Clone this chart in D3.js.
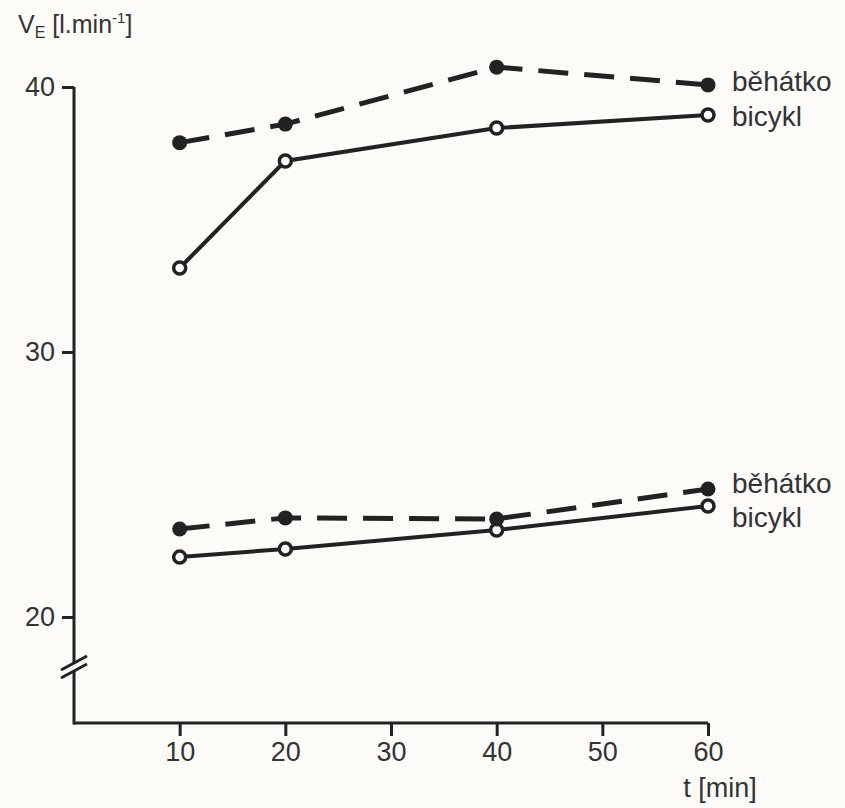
<!DOCTYPE html>
<html>
<head>
<meta charset="utf-8">
<script src="https://cdn.jsdelivr.net/npm/d3@7"></script>
<style>
  body { margin: 0; background: #fcfbf8; }
  svg text { font-family: "Liberation Sans", Arial, sans-serif; fill: #333; }
</style>
</head>
<body>
<script>
// time points (min)
var times = [10, 20, 40, 60];
// upper pair
var runHigh  = [37.9, 38.6, 40.75, 40.08];
var bikeHigh = [33.17, 37.21, 38.45, 38.94];
// lower pair
var runLow   = [23.32, 23.74, 23.7, 24.83];
var bikeLow  = [22.26, 22.57, 23.28, 24.19];

var xTicks = [10, 20, 30, 40, 50, 60];
var yTicks = [20, 30, 40];
var seriesNames = ['běhátko', 'bicykl'];

var width = 845, height = 808;
var ink = '#222';

var x = d3.scaleLinear().domain([0, 60]).range([74, 708]);
var y = d3.scaleLinear().domain([20, 40]).range([617, 87]);

var svg = d3.select('body').append('svg')
  .attr('width', width)
  .attr('height', height);

var axisY = y(16);

// x axis
var xAxis = d3.axisBottom(x).tickValues(xTicks).tickSize(13).tickPadding(6);
var gx = svg.append('g')
  .attr('transform', 'translate(0,' + axisY + ')')
  .call(xAxis);
gx.select('.domain').attr('d', 'M' + x(0) + ',0H' + x(60)).attr('stroke', ink).attr('stroke-width', 3);
gx.selectAll('.tick line').attr('stroke', ink).attr('stroke-width', 3);
gx.selectAll('.tick text').attr('font-size', 27).attr('fill', '#333').attr('font-family', '"Liberation Sans", Arial, sans-serif');

// y axis
var yAxis = d3.axisLeft(y).tickValues(yTicks).tickSize(12).tickPadding(7);
var gy = svg.append('g')
  .attr('transform', 'translate(' + x(0) + ',0)')
  .call(yAxis);
gy.select('.domain').attr('d', 'M0,' + y(40) + 'V' + (axisY + 1.5)).attr('stroke', ink).attr('stroke-width', 3);
gy.selectAll('.tick line').attr('stroke', ink).attr('stroke-width', 3);
gy.selectAll('.tick text').attr('font-size', 27).attr('fill', '#333').attr('font-family', '"Liberation Sans", Arial, sans-serif');

// axis break
var by = y(18);
svg.append('rect')
  .attr('x', x(0) - 3).attr('y', by - 6)
  .attr('width', 6).attr('height', 7)
  .attr('fill', '#fcfbf8');
[-7, 1].forEach(function (o) {
  svg.append('line')
    .attr('x1', x(0) - 13).attr('y1', by + o + 7)
    .attr('x2', x(0) + 13).attr('y2', by + o - 7)
    .attr('stroke', ink).attr('stroke-width', 3);
});

// axis titles
var yt = svg.append('text').attr('x', 18).attr('y', 33).attr('font-size', 25);
yt.append('tspan').text('V');
yt.append('tspan').attr('font-size', 16).attr('dy', 5).text('E');
yt.append('tspan').attr('dy', -5).text(' [l.min');
yt.append('tspan').attr('font-size', 15).attr('dy', -10).text('-1');
yt.append('tspan').attr('dy', 10).text(']');

svg.append('text')
  .attr('x', 720).attr('y', 797)
  .attr('text-anchor', 'middle')
  .attr('font-size', 27)
  .text('t [min]');

var line = d3.line().x(function (d) { return x(d[0]); }).y(function (d) { return y(d[1]); });

function series(vals, dashed, labelDy, name) {
  var pts = times.map(function (t, i) { return [t, vals[i]]; });
  svg.append('path')
    .attr('d', line(pts))
    .attr('fill', 'none')
    .attr('stroke', ink)
    .attr('stroke-width', dashed ? 5 : 4)
    .attr('stroke-dasharray', dashed ? '30,16' : null);
  svg.selectAll(null).data(pts).enter().append('circle')
    .attr('cx', function (d) { return x(d[0]); })
    .attr('cy', function (d) { return y(d[1]); })
    .attr('r', dashed ? 7.5 : 6)
    .attr('fill', dashed ? ink : '#fff')
    .attr('stroke', ink)
    .attr('stroke-width', dashed ? 0 : 3.5);
  var last = pts[pts.length - 1];
  svg.append('text')
    .attr('x', x(last[0]) + 24)
    .attr('y', y(last[1]) + labelDy)
    .attr('dy', '0.35em')
    .attr('font-size', 28)
    .text(name);
}

series(bikeHigh, false, 1, seriesNames[1]);
series(runHigh, true, -4, seriesNames[0]);
series(bikeLow, false, 11, seriesNames[1]);
series(runLow, true, -6, seriesNames[0]);
</script>
</body>
</html>
